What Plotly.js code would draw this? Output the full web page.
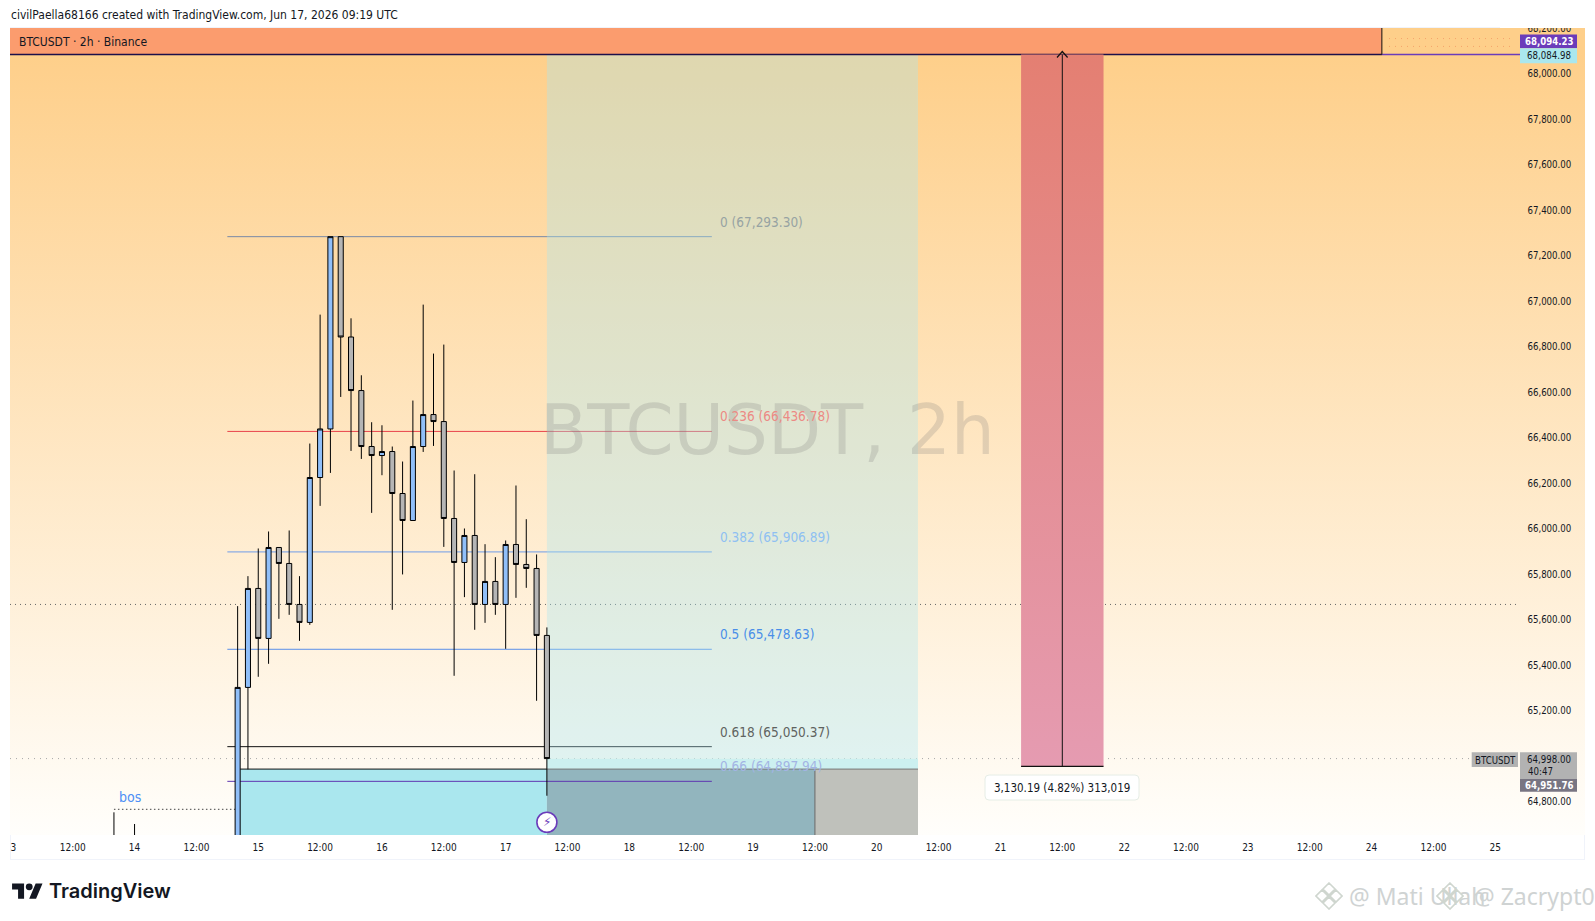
<!DOCTYPE html>
<html>
<head>
<meta charset="utf-8">
<script src="https://cdn.plot.ly/plotly-3.0.1.min.js"></script>
<style>
html,body{margin:0;padding:0;background:#fff;width:1595px;height:921px;overflow:hidden}
#frame{position:absolute;left:10px;top:27px;width:1575px;height:833px;border:1px solid #f0f3fa;box-sizing:border-box}
#pane{position:absolute;left:10px;top:27.5px;width:1575px;height:807.5px;background:linear-gradient(180deg,#fecf8a 0px,#fecf8a 25px,#fffefb 100%)}
#chart{position:absolute;left:0;top:0;width:1595px;height:921px}
.ov{position:absolute;z-index:5}
</style>
</head>
<body>
<div id="frame"></div>
<div id="pane"></div>
<div id="chart"></div>
<svg class="ov" style="left:12px;top:880px" width="31" height="24" viewBox="0 0 36 28"><path fill="#131722" d="M14 22H7V11H0V4h14v18zM28 22h-8l7.5-18h8L28 22z"/><circle cx="20" cy="8" r="4" fill="#131722"/></svg>
<svg class="ov" style="left:1315px;top:882px" width="28" height="28" viewBox="0 0 28 28"><g fill="none" stroke="#cfd6cf" stroke-width="1.6"><path d="M14 1l6 6-6 6-6-6zM7 8l6 6-6 6-6-6zM21 8l6 6-6 6-6-6zM14 15l6 6-6 6-6-6z"/></g></svg>
<svg class="ov" style="left:1436px;top:882px" width="28" height="28" viewBox="0 0 28 28"><g fill="none" stroke="#cfd6cf" stroke-width="1.6"><path d="M14 1l6 6-6 6-6-6zM7 8l6 6-6 6-6-6zM21 8l6 6-6 6-6-6zM14 15l6 6-6 6-6-6z"/></g></svg>
<script>
// ---- candles (2h) ----
const times = ['2026-06-13 20:00','2026-06-14 00:00','2026-06-14 20:00','2026-06-14 22:00',
'2026-06-15 00:00','2026-06-15 02:00','2026-06-15 04:00','2026-06-15 06:00','2026-06-15 08:00','2026-06-15 10:00','2026-06-15 12:00','2026-06-15 14:00','2026-06-15 16:00','2026-06-15 18:00','2026-06-15 20:00','2026-06-15 22:00',
'2026-06-16 00:00','2026-06-16 02:00','2026-06-16 04:00','2026-06-16 06:00','2026-06-16 08:00','2026-06-16 10:00','2026-06-16 12:00','2026-06-16 14:00','2026-06-16 16:00','2026-06-16 18:00','2026-06-16 20:00','2026-06-16 22:00',
'2026-06-17 00:00','2026-06-17 02:00','2026-06-17 04:00','2026-06-17 06:00','2026-06-17 08:00'];
const opens = [64560,64560,64480,65311,65746.2,65526.5,65926.4,65856.1,65675.9,65596.8,66234.1,66447.7,67293.3,66852,66616.5,66370.4,66330.8,66348.4,66163.8,66045.1,66370.4,66511,66480.2,66053.9,65860.5,65979.2,65675.9,65777,65675.9,65939.6,65851.7,65834.1,65539.6];
const highs = [64761.7,64710.3,65668.4,65800.3,65922,65996.8,65926.4,66001.2,65800.3,66383.5,66950.5,67293.3,67293.3,66934.3,66683.7,66477.2,66463.9,66370.4,66304.4,66572.5,66994.5,66779.1,66818.7,66264.9,66009.9,66248.6,65940.9,65883.8,65957.2,66198.9,66050.8,65895.7,65574.8];
const lows  = [64500,64500,64400,64950.7,65357.7,65414.8,65612.6,65630.2,65515.9,65586.2,66109.3,66254.3,66588.4,66351,66315.8,66078.5,66244.2,65652.2,65807.8,66045.1,66346.6,66373,65929,65362.1,65708,65564.3,65595,65630.2,65480.7,65704.9,65748.9,65252.2,64834.6];
const closes= [64540,64540,65311,65746.2,65526.5,65926.4,65856.1,65675.9,65596.8,66234.1,66447.7,67293.3,66852,66616.5,66370.4,66330.8,66348.4,66163.8,66045.1,66370.4,66511,66480.2,66053.9,65860.5,65979.2,65675.9,65777,65675.9,65939.6,65851.7,65834.1,65539.6,64998];

// ---- fibonacci levels ----
const fibNames  = ['0','0.236','0.382','0.5','0.618','0.66'];
const fibPrices = [67293.30,66436.78,65906.89,65478.63,65050.37,64897.94];
const fibLabels = ['0 (67,293.30)','0.236 (66,436.78)','0.382 (65,906.89)','0.5 (65,478.63)','0.618 (65,050.37)','0.66 (64,897.94)'];
const fibLine   = ['#7a8aa6','#e8434a','#6f9be8','#5b8fe8','#111111','#5e35b1'];
const fibText   = ['#97a3a3','#ec8a84','#8fc0f2','#4a8ee8','#5f6360','#a3b4e4'];

// ---- axis ticks ----
const priceTicks = [64800,65200,65400,65600,65800,66000,66200,66400,66600,66800,67000,67200,67400,67600,67800,68000,68200];
const timeTicks = ['2026-06-13 00:28','2026-06-13 12:00','2026-06-14 00:00','2026-06-14 12:00','2026-06-15 00:00','2026-06-15 12:00','2026-06-16 00:00','2026-06-16 12:00','2026-06-17 00:00','2026-06-17 12:00','2026-06-18 00:00','2026-06-18 12:00','2026-06-19 00:00','2026-06-19 12:00','2026-06-20 00:00','2026-06-20 12:00','2026-06-21 00:00','2026-06-21 12:00','2026-06-22 00:00','2026-06-22 12:00','2026-06-23 00:00','2026-06-23 12:00','2026-06-24 00:00','2026-06-24 12:00','2026-06-25 00:00'];
const timeLabels = ['3','12:00','14','12:00','15','12:00','16','12:00','17','12:00','18','12:00','19','12:00','20','12:00','21','12:00','22','12:00','23','12:00','24','12:00','25'];

// ---- key prices and times ----
const priceTop = 68094.23, priceEntry = 64951.76, priceLast = 64998.00, priceMeasureLow = 64964.04;
const priceCross = 65675.9, priceBos = 64774.9, priceIcon = 64718;
const yRange = [64661.9, 68211];
const xRange = ['2026-06-12 23:50','2026-06-25 04:48'];
const tFibL='2026-06-14 18:00', tFibR='2026-06-18 16:00', tBosL='2026-06-13 20:00', tBosR='2026-06-14 20:00';
const tZoneL='2026-06-17 08:00', tZoneMid='2026-06-19 12:00', tZoneR='2026-06-20 08:00';
const tBandEnd='2026-06-24 02:00', tRedL='2026-06-21 04:00', tRedM='2026-06-21 12:00', tRedR='2026-06-21 20:00';

const UI = '"DejaVu Sans Condensed","DejaVu Sans",sans-serif';
const L=10,T=27.5,W=1510,H=807.5;
const px = v => (v-L)/W, py = v => (T+H-v)/H;

const rect=(x0,x1,y0,y1,fill,layer)=>({type:'rect',xref:'x',yref:'y',x0,x1,y0,y1,fillcolor:fill,line:{width:0},layer:layer||'below'});
const hline=(x0,x1,y,color,width,dash,layer)=>({type:'line',xref:'x',yref:'y',x0,x1,y0:y,y1:y,line:{color,width:width||1,dash:dash||'solid'},layer:layer||'below'});
const pbox=(x0,x1,y0,y1,fill)=>({type:'rect',xref:'paper',yref:'paper',x0:px(x0),x1:px(x1),y0:py(y0),y1:py(y1),fillcolor:fill,line:{width:0},layer:'above'});
const P=(x,y)=>px(x)+','+py(y);
const rounded=(x0,x1,y0,y1,r)=>({type:'path',xref:'paper',yref:'paper',layer:'above',fillcolor:'#ffffff',line:{color:'#e6ede6',width:1},
  path:'M'+P(x0+r,y0)+' L'+P(x1-r,y0)+' Q'+P(x1,y0)+' '+P(x1,y0+r)+' L'+P(x1,y1-r)+' Q'+P(x1,y1)+' '+P(x1-r,y1)+' L'+P(x0+r,y1)+' Q'+P(x0,y1)+' '+P(x0,y1-r)+' L'+P(x0,y0+r)+' Q'+P(x0,y0)+' '+P(x0+r,y0)+' Z'});
const txt=(text,x,y,o)=>Object.assign({text,xref:'paper',yref:'paper',x:px(x),y:py(y),showarrow:false,xanchor:'left',yanchor:'middle',font:{family:UI,size:11,color:'#131722'}},o||{});

const shapes=[
  rect(tBosR,tZoneL,priceEntry,yRange[0],'#aae7ee'),
  rect(tZoneL,tZoneMid,priceEntry,yRange[0],'#92b5be'),
  rect(tZoneMid,tZoneR,priceEntry,yRange[0],'#bfc1bb'),
  hline(xRange[0],xRange[1],priceCross,'#666666',1,'1px,4px'),
  hline(xRange[0],'2026-06-24 20:00',priceLast,'#a8a8a8',1,'1px,5px'),
  hline(tBosL,tBosR,priceBos,'#444444',1,'1.5px,2.5px'),
];
fibPrices.forEach((p,i)=>shapes.push(hline(tFibL,tFibR,p,fibLine[i],1)));
shapes.push(
  rect(tZoneL,tZoneR,priceTop,priceLast,'rgba(170,231,240,0.36)'),
  rect(tZoneL,tZoneR,priceLast,priceEntry,'#ccf0f0'),
  hline(tBosR,tZoneL,priceEntry,'#111111',1),
  hline(tZoneL,tZoneR,priceEntry,'#777777',1),
  {type:'line',xref:'x',yref:'y',x0:tZoneMid,x1:tZoneMid,y0:priceEntry,y1:yRange[0],line:{color:'#666',width:1},layer:'below'},
  rect(xRange[0],tBandEnd,priceTop,yRange[1],'#fb9c6e'),
  hline(tBandEnd,xRange[1],priceTop,'#6b3cba',1.5),
  hline(xRange[0],tBandEnd,priceTop,'#1c0f4a',1.5),
  {type:'line',xref:'x',yref:'y',x0:tBandEnd,x1:tBandEnd,y0:priceTop,y1:yRange[1],line:{color:'#111',width:1},layer:'below'},
  hline('2026-06-24 03:23','2026-06-25 03:48',68164.5,'#f5a46a',1,'1px,5px'),
  hline('2026-06-24 03:23','2026-06-25 03:48',68130,'#f5a46a',1,'1px,5px'),
  hline(tRedL,tRedR,priceMeasureLow,'#111111',1.2,'solid','above'),
  {type:'line',xref:'x',yref:'y',x0:tRedM,x1:tRedM,y0:priceMeasureLow,y1:priceTop,line:{color:'#111',width:1},layer:'above'},
  {type:'path',xref:'paper',yref:'paper',layer:'above',line:{color:'#111',width:1.2},path:'M'+P(1057,57)+' L'+P(1062.3,51)+' L'+P(1067.6,57)},
  rounded(985,1139,775,800,4),
  // price scale tags
  pbox(1520,1577,34,47.7,'#6b3cba'),
  pbox(1520,1577,47.7,62.7,'#aae7ee'),
  pbox(1520,1577,752.3,779,'#b2b2b2'),
  pbox(1520,1577,779,791.7,'#787582'),
  pbox(1471.7,1518,752.3,767,'#b2b2b2'),
  // header mask for the clipped top tick label
  pbox(1500,1595,0,27.5,'#ffffff')
);

const annotations=[
  txt('civilPaella68166 created with TradingView.com, Jun 17, 2026 09:19 UTC',9,14.5,{font:{family:UI,size:12,color:'#131722'}}),
  txt('BTCUSDT · 2h · Binance',16.5,41.5,{font:{family:UI,size:12,color:'#131722'}}),
  txt('BTCUSDT, 2h',767,430,{xanchor:'center',font:{family:'"DejaVu Sans",sans-serif',size:69,color:'rgba(120,120,120,0.22)'}}),
  txt('bos',129.5,797,{xanchor:'center',font:{family:UI,size:14,color:'#4d8ff5'}}),
  txt('68,094.23',1549,41,{xanchor:'center',font:{family:UI,size:9.6,color:'#ffffff',weight:700}}),
  txt('68,084.98',1549,55.5,{xanchor:'center',font:{family:UI,size:9.6,color:'#131722'}}),
  txt('64,998.00',1549,759,{xanchor:'center',font:{family:UI,size:9.6,color:'#131722'}}),
  txt('40:47',1526,771,{font:{family:UI,size:9.6,color:'#131722'}}),
  txt('64,951.76',1549,785.5,{xanchor:'center',font:{family:UI,size:9.6,color:'#ffffff',weight:700}}),
  txt('BTCUSDT',1495,760,{xanchor:'center',font:{family:UI,size:9.6,color:'#131722'}}),
  txt('TradingView',47,891.5,{font:{family:'Inter,sans-serif',size:20,color:'#131722',weight:600}}),
  txt('@ Mati Ullah',1347,896,{font:{family:'"Noto Sans",sans-serif',size:23,color:'#cfd3d3'}}),
  txt('@ Zacrypt0',1472,896,{font:{family:'"Noto Sans",sans-serif',size:23,color:'#cfd3d3'}}),
  txt('3,130.19 (4.82%) 313,019',1062,787.5,{xanchor:'center',font:{family:UI,size:11.5,color:'#131722'}}),
  {x:tZoneL,y:priceIcon,xref:'x',yref:'y',text:'⚡',showarrow:false,font:{family:'"DejaVu Sans"',size:12,color:'#6b3cba'}}
];
fibLabels.forEach((t,i)=>annotations.push({text:t,xref:'paper',yref:'y',x:px(718),y:fibPrices[i],yshift:15,showarrow:false,xanchor:'left',yanchor:'middle',font:{family:UI,size:13.5,color:fibText[i]}}));

const traces=[
 {type:'scatter',mode:'lines',x:[tRedL,tRedR,tRedR,tRedL,tRedL],y:[priceTop,priceTop,priceMeasureLow,priceMeasureLow,priceTop],fill:'toself',
  line:{width:0},hoverinfo:'skip',showlegend:false,
  fillgradient:{type:'vertical',colorscale:[[0,'#e59bb1'],[1,'#e47f72']]}},
 {type:'candlestick',x:times,open:opens,high:highs,low:lows,close:closes,width:2*3600*1000*0.62,whiskerwidth:0,hoverinfo:'skip',showlegend:false,
  increasing:{line:{color:'#000000',width:1},fillcolor:'#90bff9'},
  decreasing:{line:{color:'#000000',width:1},fillcolor:'#b5b5b5'}},
 {type:'scatter',mode:'markers',x:[tZoneL],y:[priceIcon],hoverinfo:'skip',showlegend:false,
  marker:{size:20,color:'#ffffff',line:{color:'#6b3cba',width:1.6}}}
];

const layout={
  width:1595,height:921,paper_bgcolor:'rgba(0,0,0,0)',plot_bgcolor:'rgba(0,0,0,0)',
  margin:{l:L,r:1595-L-W,t:T,b:921-T-H,pad:0},showlegend:false,dragmode:false,
  font:{family:UI,size:10,color:'#131722'},
  xaxis:{type:'date',range:xRange,showgrid:false,zeroline:false,showline:false,rangeslider:{visible:false},
    tickmode:'array',tickvals:timeTicks,ticktext:timeLabels,ticklen:3,tickcolor:'rgba(0,0,0,0)',tickfont:{family:UI,size:10,color:'#131722'}},
  yaxis:{side:'right',range:yRange,showgrid:false,zeroline:false,showline:false,
    tickmode:'array',tickvals:priceTicks,tickformat:',.2f',ticklen:4.5,tickcolor:'rgba(0,0,0,0)',ticklabelshift:-2,tickfont:{family:UI,size:9.6,color:'#131722'}},
  shapes,annotations
};
Plotly.newPlot('chart',traces,layout,{staticPlot:true,displayModeBar:false});
</script>
</body>
</html>
